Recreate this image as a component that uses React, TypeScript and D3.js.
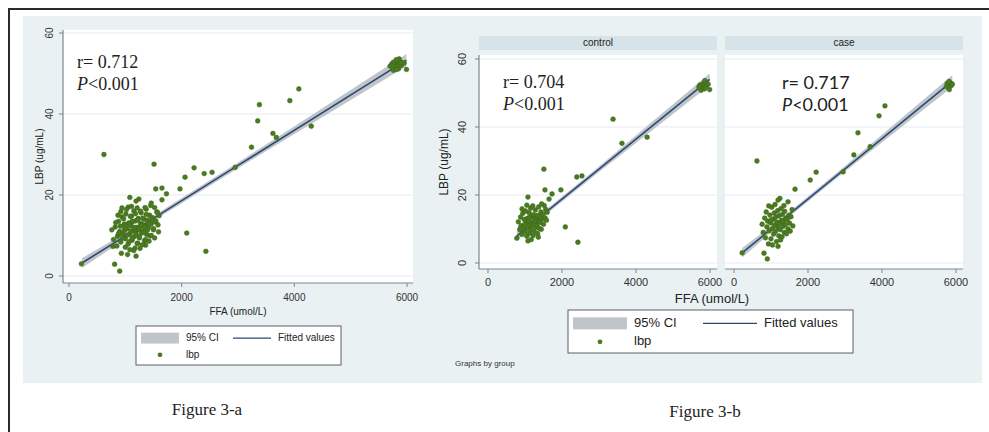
import React from 'react';
import * as d3 from 'd3';

// axis ticks shared by every panel
const xTicks = [0, 2000, 4000, 6000];
const yTicks = [0, 20, 40, 60];

// FFA (umol/L), LBP (ug/mL)
const controlPoints: [number, number][] = [
  [3380, 42.3], [3620, 35.2], [4300, 37], [1510, 27.6], [2400, 25.3], [2540, 25.6],
  [1540, 21.5], [1970, 21.5], [1080, 19.4], [1730, 20.3], [1650, 18.8], [2090, 10.6],
  [2430, 6.1], [780, 7.3], [1080, 6.5],
  [5730, 52.4], [5780, 51.5], [5820, 52.8], [5850, 51.2], [5880, 53.0], [5900, 52.0],
  [5760, 50.8], [5950, 52.6], [5700, 51.8], [5990, 51.0], [5860, 53.6],
  [820, 12.1], [860, 9.8], [880, 13.5], [900, 11.0], [920, 8.4], [940, 14.6], [960, 10.5],
  [980, 12.8], [1000, 9.2], [1010, 15.3], [1030, 11.7], [1050, 7.9], [1060, 13.1],
  [1080, 10.3], [1100, 12.4], [1110, 14.8], [1120, 8.8], [1140, 11.2], [1150, 16.1],
  [1160, 9.7], [1180, 13.6], [1190, 10.9], [1200, 12.0], [1220, 8.1], [1230, 14.2],
  [1240, 11.5], [1250, 9.4], [1270, 13.0], [1280, 15.6], [1290, 10.6], [1300, 12.7],
  [1320, 11.1], [1330, 14.0], [1340, 8.7], [1360, 12.3], [1370, 16.5], [1380, 10.2],
  [1400, 13.8], [1410, 11.9], [1430, 15.0], [1440, 9.9], [1460, 12.9], [1480, 14.4],
  [1500, 11.4], [1520, 16.9], [1540, 13.3], [1560, 15.8], [1580, 12.6], [1600, 14.9],
  [1050, 17.0], [920, 15.9], [1170, 6.9], [880, 10.4], [1360, 7.6], [1450, 17.4],
  [990, 11.3], [1120, 13.4], [1260, 12.2], [1210, 16.8],
];

// same for the case facet
const casePoints: [number, number][] = [
  [620, 30], [3350, 38.3], [3920, 43.3], [4080, 46.2], [3680, 34.2], [3240, 31.8],
  [2950, 26.8], [2220, 26.7], [2060, 24.4], [1650, 21.7], [1240, 19], [1190, 18.5],
  [1460, 18], [220, 3], [810, 2.9], [900, 1.2],
  [5780, 52.4], [5800, 51.6], [5840, 53.0], [5760, 52.8], [5820, 51.0], [5870, 52.2],
  [5740, 51.9], [5900, 52.6], [5810, 53.4],
  [760, 11.4], [790, 9.0], [830, 13.2], [850, 7.4], [870, 15.0], [890, 10.6], [910, 12.3],
  [930, 5.6], [950, 9.5], [970, 14.1], [990, 11.8], [1000, 7.1], [1020, 16.4], [1040, 10.1],
  [1060, 12.9], [1070, 8.5], [1090, 14.7], [1100, 11.1], [1120, 9.3], [1130, 13.5],
  [1150, 6.3], [1160, 12.0], [1180, 15.4], [1190, 10.4], [1210, 8.0], [1220, 13.9],
  [1240, 11.6], [1250, 9.8], [1270, 16.0], [1280, 12.5], [1300, 7.7], [1310, 14.3],
  [1330, 10.8], [1340, 12.1], [1360, 9.0], [1370, 15.2], [1390, 11.3], [1400, 13.1],
  [1420, 8.6], [1440, 12.8], [1460, 10.0], [1480, 14.0], [1500, 11.7], [1520, 9.4],
  [1540, 13.6], [1570, 15.7], [1590, 10.9], [1040, 5.3], [1260, 6.8], [940, 16.8],
  [1110, 17.2], [1350, 16.9], [1190, 4.9], [1000, 12.6],
];

// fitted line + 95% CI band (FFA, lower, fit, upper)
const fitAllX = [230, 1300, 3000, 5990];
const fitAllY = [3.2, 12.5, 27.3, 53.3];
const ciAllLo = [2.0, 11.9, 26.6, 51.8];
const ciAllHi = [4.4, 13.1, 28.0, 54.8];

const fitCtrlX = [780, 1400, 3000, 5990];
const fitCtrlY = [8.0, 13.5, 27.6, 54.0];
const ciCtrlLo = [6.6, 12.8, 26.8, 52.3];
const ciCtrlHi = [9.4, 14.2, 28.4, 55.7];

const fitCaseX = [220, 1300, 3000, 5900];
const fitCaseY = [3.0, 12.6, 27.7, 53.5];
const ciCaseLo = [1.6, 11.9, 26.9, 51.8];
const ciCaseHi = [4.4, 13.3, 28.5, 55.2];

const BG = '#e9f1f3';
const STRIP = '#d6e3e9';
const GRID = '#e4ecf0';
const DOT = '#4b7b20';
const FIT = '#2a4a74';
const CI = '#c0c5ca';
const AXIS = '#7d878e';
const SANS = '"Liberation Sans", Arial, sans-serif';
const SERIF = '"Liberation Serif", "Times New Roman", serif';

type Box = { left: number; right: number; top: number; bottom: number };

function Facet({ x, y, box, pts, fx, fy, lo, hi, yAxis, tickSize, tickLabelY }: any) {
  const b: Box = box;
  const band = d3.area<number>()
    .x((_, i) => x(fx[i]))
    .y0((_, i) => y(lo[i]))
    .y1((_, i) => y(hi[i]));
  const line = d3.line<number>()
    .x((_, i) => x(fx[i]))
    .y((d) => y(d));
  return (
    <g>
      <rect x={b.left} y={b.top} width={b.right - b.left} height={b.bottom - b.top} fill="#fff" />
      {yTicks.map((t) => (
        <line key={t} x1={b.left} x2={b.right} y1={y(t)} y2={y(t)} stroke={GRID} strokeWidth={1} />
      ))}
      <path d={band(fx) || ''} fill={CI} />
      <path d={line(fy) || ''} fill="none" stroke={FIT} strokeWidth={1.6} />
      {pts.map((p: [number, number], i: number) => (
        <circle key={i} cx={x(p[0])} cy={y(p[1])} r={2.4} fill={DOT} stroke="#3d6619" strokeWidth={0.5} />
      ))}
      {/* x axis */}
      <line x1={b.left} x2={b.right} y1={b.bottom} y2={b.bottom} stroke={AXIS} strokeWidth={1.2} />
      {xTicks.map((t) => (
        <g key={t}>
          <line x1={x(t)} x2={x(t)} y1={b.bottom} y2={b.bottom + 4} stroke={AXIS} />
          <text x={x(t)} y={tickLabelY} textAnchor="middle" dominantBaseline="middle"
            fontFamily={SANS} fontSize={tickSize} fill="#333">{t}</text>
        </g>
      ))}
      {yAxis && (
        <g>
          <line x1={b.left} x2={b.left} y1={b.top} y2={b.bottom} stroke={AXIS} strokeWidth={1.2} />
          {yTicks.map((t) => (
            <g key={t}>
              <line x1={b.left - 4} x2={b.left} y1={y(t)} y2={y(t)} stroke={AXIS} />
              <text transform={`translate(${yAxis.labelX},${y(t)}) rotate(-90)`} textAnchor="middle"
                dominantBaseline="middle" fontFamily={SANS} fontSize={tickSize} fill="#333">{t}</text>
            </g>
          ))}
          <text transform={`translate(${yAxis.titleX},${(b.top + b.bottom) / 2}) rotate(-90)`}
            textAnchor="middle" dominantBaseline="middle" fontFamily={SANS}
            fontSize={yAxis.titleSize} fill="#222">LBP (ug/mL)</text>
        </g>
      )}
    </g>
  );
}

// col2: x of the fitted-values key, relative to the box
function Legend({ x, y, w, h, fs, rectW, col2 }: any) {
  return (
    <g transform={`translate(${x},${y})`}>
      <rect x={0} y={0} width={w} height={h} fill="#fff" stroke="#5a5f63" strokeWidth={1} />
      <rect x={5} y={h * 0.17} width={rectW} height={h * 0.28} fill={CI} />
      <text x={rectW + 12} y={h * 0.31} dominantBaseline="middle" fontFamily={SANS} fontSize={fs} fill="#222">95% CI</text>
      <line x1={col2} x2={col2 + rectW} y1={h * 0.31} y2={h * 0.31} stroke={FIT} strokeWidth={1.4} />
      <text x={col2 + rectW + 7} y={h * 0.31} dominantBaseline="middle" fontFamily={SANS} fontSize={fs} fill="#222">Fitted values</text>
      <circle cx={5 + rectW / 2} cy={h * 0.74} r={2.4} fill={DOT} />
      <text x={rectW + 12} y={h * 0.74} dominantBaseline="middle" fontFamily={SANS} fontSize={fs} fill="#222">lbp</text>
    </g>
  );
}

function Stats({ x, y, r, family }: any) {
  return (
    <g fontFamily={family} fontSize={18} fill="#222">
      <text x={x} y={y}>r= {r}</text>
      <text x={x} y={y + 22}><tspan fontStyle="italic">P</tspan>&lt;0.001</text>
    </g>
  );
}

export default function App() {
  // figure 3-a
  const boxA: Box = { left: 63, right: 413, top: 30, bottom: 283 };
  const xA = d3.scaleLinear().domain([0, 6000]).range([69, 407]);
  const yA = d3.scaleLinear().domain([0, 60]).range([276, 33]);

  // figure 3-b facets
  const boxC: Box = { left: 479, right: 717, top: 55, bottom: 269 };
  const boxK: Box = { left: 725, right: 963, top: 55, bottom: 269 };
  const xC = d3.scaleLinear().domain([0, 6000]).range([488, 710]);
  const xK = d3.scaleLinear().domain([0, 6000]).range([734, 956]);
  const yB = d3.scaleLinear().domain([0, 60]).range([263, 59]);

  return (
    <svg width={989} height={432} style={{ position: 'absolute', left: 0, top: 0, background: '#fff' }}>
      <rect x={9} y={9} width={1000} height={440} fill="#fff" stroke="#2a2a2a" strokeWidth={2} />
      <rect x={23} y={16} width={959} height={367} fill={BG} />

      <Facet x={xA} y={yA} box={boxA} pts={controlPoints.concat(casePoints)}
        fx={fitAllX} fy={fitAllY} lo={ciAllLo} hi={ciAllHi} tickSize={10} tickLabelY={298}
        yAxis={{ labelX: 50, titleX: 40, titleSize: 10 }} />
      <text x={238} y={312} textAnchor="middle" dominantBaseline="middle" fontFamily={SANS} fontSize={10} fill="#222">FFA (umol/L)</text>
      <Stats x={77} y={68} r="0.712" family={SERIF} />
      <Legend x={136} y={326} w={205} h={39} fs={10} rectW={38} col2={97} />
      <text x={207} y={415} textAnchor="middle" fontFamily={SERIF} fontSize={17} fill="#222">Figure 3-a</text>

      <rect x={479} y={36} width={238} height={14} fill={STRIP} />
      <text x={598} y={43.5} textAnchor="middle" dominantBaseline="middle" fontFamily={SANS} fontSize={10} fill="#222">control</text>
      <rect x={725} y={36} width={238} height={14} fill={STRIP} />
      <text x={844} y={43.5} textAnchor="middle" dominantBaseline="middle" fontFamily={SANS} fontSize={10} fill="#222">case</text>

      <Facet x={xC} y={yB} box={boxC} pts={controlPoints}
        fx={fitCtrlX} fy={fitCtrlY} lo={ciCtrlLo} hi={ciCtrlHi} tickSize={11} tickLabelY={283}
        yAxis={{ labelX: 463, titleX: 445, titleSize: 12 }} />
      <Facet x={xK} y={yB} box={boxK} pts={casePoints}
        fx={fitCaseX} fy={fitCaseY} lo={ciCaseLo} hi={ciCaseHi} tickSize={11} tickLabelY={283} />
      <text x={712} y={300} textAnchor="middle" dominantBaseline="middle" fontFamily={SANS} fontSize={13} fill="#222">FFA (umol/L)</text>
      <Stats x={503} y={88} r="0.704" family={SERIF} />
      <Stats x={782} y={89} r="0.717" family={'Lato, "Open Sans", sans-serif'} />
      <Legend x={568} y={310} w={285} h={43} fs={13} rectW={54} col2={135} />
      <text x={455} y={366} fontFamily={SANS} fontSize={8} fill="#333">Graphs by group</text>
      <text x={705} y={417} textAnchor="middle" fontFamily={SERIF} fontSize={17} fill="#222">Figure 3-b</text>
    </svg>
  );
}
